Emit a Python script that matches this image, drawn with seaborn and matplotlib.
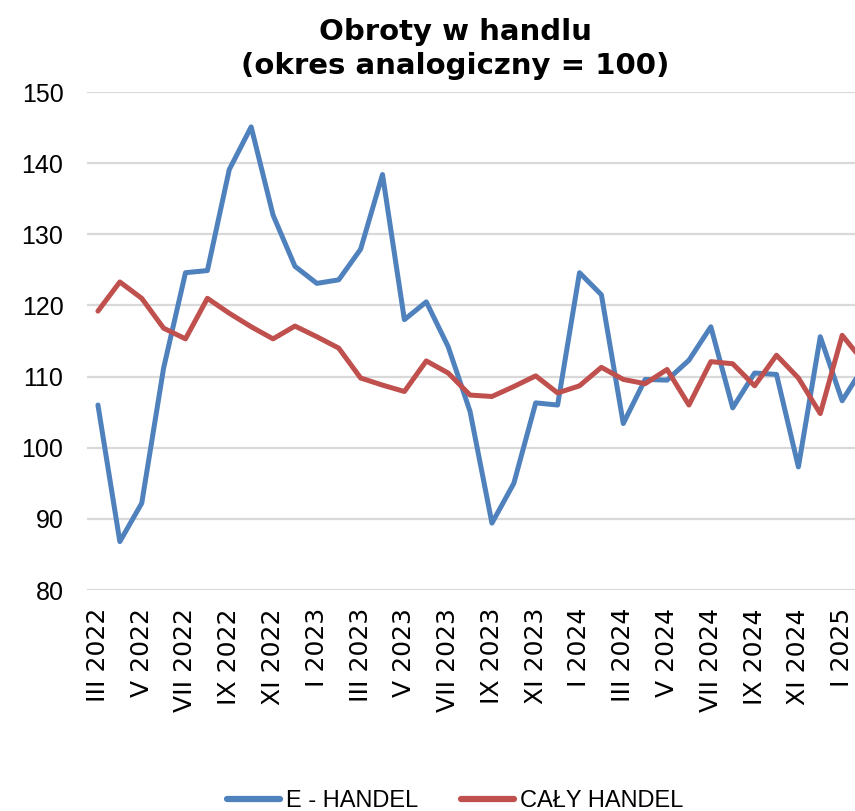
import matplotlib
matplotlib.use("Agg")
import matplotlib.pyplot as plt
import numpy as np
import pandas as pd
import seaborn as sns

# ── Data ───────────────────────────────────────────────────────────────────────
months = [
    "III 2022", "IV 2022", "V 2022", "VI 2022", "VII 2022", "VIII 2022",
    "IX 2022", "X 2022", "XI 2022", "XII 2022",
    "I 2023", "II 2023", "III 2023", "IV 2023", "V 2023", "VI 2023",
    "VII 2023", "VIII 2023", "IX 2023", "X 2023", "XI 2023", "XII 2023",
    "I 2024", "II 2024", "III 2024", "IV 2024", "V 2024", "VI 2024",
    "VII 2024", "VIII 2024", "IX 2024", "X 2024", "XI 2024", "XII 2024",
    "I 2025", "II 2025",
]
e_handel = [
    106.0, 86.8, 92.2, 111.2, 124.6, 124.9, 139.1, 145.1, 132.7, 125.5,
    123.1, 123.6, 127.9, 138.4, 118.0, 120.5, 114.2, 105.1, 89.4, 95.0,
    106.3, 106.0, 124.6, 121.5, 103.4, 109.6, 109.5, 112.3, 117.0, 105.6,
    110.5, 110.3, 97.3, 115.6, 106.6, 111.5,
]
caly_handel = [
    119.2, 123.3, 121.0, 116.8, 115.3, 121.0, 118.9, 117.0, 115.3, 117.1,
    115.6, 114.0, 109.8, 108.8, 107.9, 112.2, 110.5, 107.4, 107.2, 108.6,
    110.1, 107.7, 108.7, 111.3, 109.6, 109.0, 111.0, 106.0, 112.1, 111.8,
    108.7, 113.0, 109.8, 104.8, 115.8, 112.0,
]
series_names = ["E - HANDEL", "CAŁY HANDEL"]
series_colors = ["#4F81BD", "#C0504D"]
y_ticks = [80, 90, 100, 110, 120, 130, 140, 150]

df = pd.DataFrame({
    "idx": list(range(len(months))) * 2,
    "value": e_handel + caly_handel,
    "series": [series_names[0]] * len(months) + [series_names[1]] * len(months),
})

# ── Style ──────────────────────────────────────────────────────────────────────
sns.set_style("white")
plt.rcParams["font.family"] = ["DejaVu Sans"]
plt.rcParams["text.color"] = "black"
plt.rcParams["xtick.color"] = "black"
plt.rcParams["ytick.color"] = "black"
arial = ["Liberation Sans", "DejaVu Sans"]

fig = plt.figure(figsize=(8.55, 8.11), dpi=100)
ax = fig.add_axes([87 / 855, 1 - 590 / 811, (875 - 87) / 855, 498 / 811])

sns.lineplot(
    data=df, x="idx", y="value", hue="series",
    palette=dict(zip(series_names, series_colors)),
    linewidth=3.6, ax=ax, legend=False,
)

ax.set_xlim(-0.5, len(months) - 0.5)
ax.set_ylim(80, 150)
ax.set_yticks(y_ticks)
ax.set_yticklabels([str(t) for t in y_ticks], family=arial, fontsize=18)
ax.set_xticks(range(0, len(months), 2))
ax.set_xticklabels(months[::2], rotation=90, fontsize=18)
ax.tick_params(axis="both", length=0)
ax.tick_params(axis="y", pad=17)
ax.tick_params(axis="x", pad=13)
ax.yaxis.grid(True, color="#D9D9D9", linewidth=1.6)
ax.set_axisbelow(True)
ax.set_xlabel("")
ax.set_ylabel("")
for s in ax.spines.values():
    s.set_visible(False)

fig.text(455 / 855, 1 - 49 / 811, "Obroty w handlu\n(okres analogiczny = 100)",
         ha="center", va="center", fontsize=21, fontweight="bold",
         linespacing=1.3, color="black")

handles = [plt.Line2D([], [], color=c, linewidth=4.5) for c in series_colors]
fig.legend(handles, series_names, loc="center", ncol=2, frameon=False,
           bbox_to_anchor=(455 / 855, 1 - 801 / 811), handlelength=2.25,
           handletextpad=0.25, columnspacing=1.8,
           prop={"family": arial, "size": 17})

fig.savefig("out.png", dpi=100)
